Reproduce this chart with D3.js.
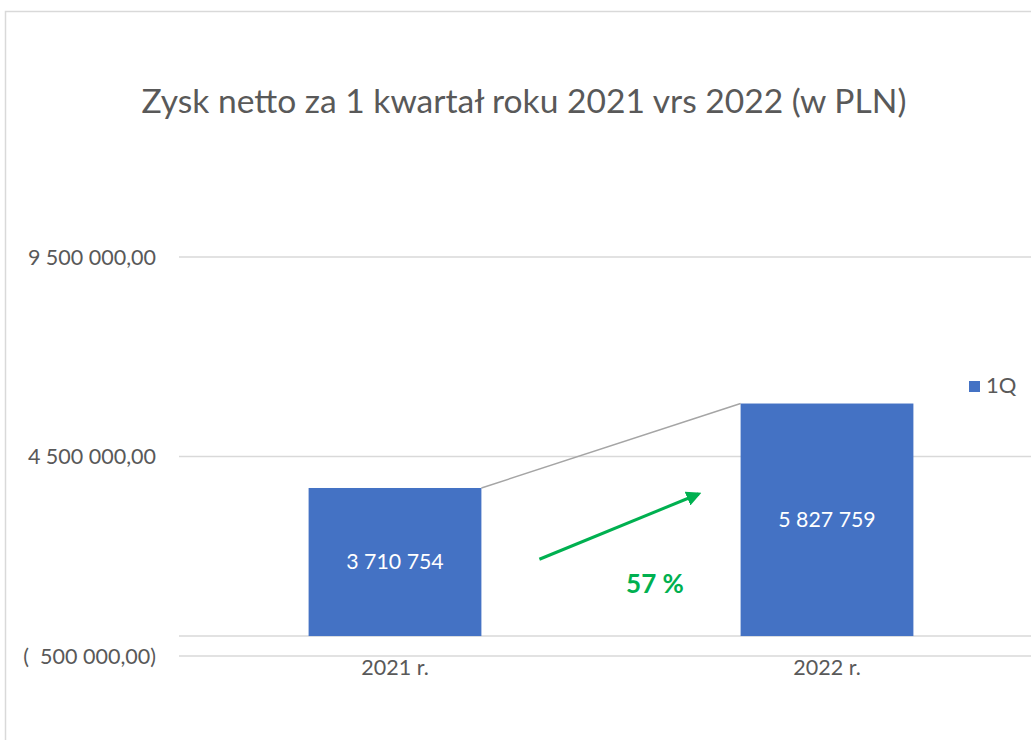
<!DOCTYPE html>
<html>
<head>
<meta charset="utf-8">
<script src="https://cdn.jsdelivr.net/npm/d3@7"></script>
<style>
  html, body { margin: 0; padding: 0; background: #fff; }
  svg { display: block; font-family: Lato, "Open Sans", sans-serif; }
</style>
</head>
<body>
<div class="chartBox"></div>
<script>
// dane
var categories = ["2021 r.", "2022 r."];
var values = [3710754, 5827759];
var yTicks = [-500000, 4500000, 9500000];
var seriesName = "1Q";
var title = "Zysk netto za 1 kwartał roku 2021 vrs 2022 (w PLN)";

var W = 1031, H = 740;

// polski format liczb
var pl = d3.formatLocale({ decimal: ",", thousands: "\u00a0", grouping: [3], currency: ["", ""] });
var fTick = pl.format(",.2f");
var fVal = pl.format(",.0f");
function tickLabel(v) {
    return v < 0 ? "(\u00a0 " + fTick(-v) + ")" : fTick(v);
}

var svg = d3.select(".chartBox")
    .append("svg")
    .attr("width", W)
    .attr("height", H);

// ramka wykresu
svg.append("rect")
    .attr("x", 5.5).attr("y", 11.5)
    .attr("width", W + 20).attr("height", H + 20)
    .attr("fill", "none")
    .attr("stroke", "#d9d9d9")
    .attr("stroke-width", 1.5);

// tytuł
svg.append("text")
    .attr("x", 524)
    .attr("y", 113)
    .attr("text-anchor", "middle")
    .attr("fill", "#595959")
    .style("font-size", "33.6px")
    .text(title);

// skale
var x = d3.scaleBand()
    .domain(categories)
    .range([179, 1043])
    .paddingInner(0.6)
    .paddingOuter(0.3);

var y = d3.scaleLinear()
    .domain([-500000, 9500000])
    .range([656, 257]);

// linie siatki
svg.append("g").selectAll("line.grid")
    .data(yTicks.concat([0]))
    .enter().append("line")
    .attr("class", "grid")
    .attr("x1", 179).attr("x2", W)
    .attr("y1", function(d) { return y(d); })
    .attr("y2", function(d) { return y(d); })
    .attr("stroke", "#d9d9d9")
    .attr("stroke-width", 1.5);

// etykiety osi Y
svg.append("g").selectAll("text.ytick")
    .data(yTicks)
    .enter().append("text")
    .attr("class", "ytick")
    .attr("x", 156)
    .attr("y", function(d) { return y(d); })
    .attr("dy", "0.35em")
    .attr("text-anchor", "end")
    .attr("fill", "#595959")
    .style("font-size", "21.5px")
    .text(tickLabel);

// etykiety osi X
svg.append("g").selectAll("text.xtick")
    .data(categories)
    .enter().append("text")
    .attr("class", "xtick")
    .attr("x", function(d) { return x(d) + x.bandwidth() / 2; })
    .attr("y", 675)
    .attr("text-anchor", "middle")
    .attr("fill", "#595959")
    .style("font-size", "21.5px")
    .text(function(d) { return d; });

// linia łącząca słupki
var pts = [];
categories.forEach(function(c, i) {
    if (i > 0) pts.push([x(c), y(values[i])]);
    if (i < categories.length - 1) pts.push([x(c) + x.bandwidth(), y(values[i])]);
});
svg.append("path")
    .attr("d", d3.line()(pts))
    .attr("fill", "none")
    .attr("stroke", "#a5a5a5")
    .attr("stroke-width", 1.5);

// słupki
svg.append("g").selectAll("rect.bar")
    .data(values)
    .enter().append("rect")
    .attr("class", "bar")
    .attr("x", function(d, i) { return x(categories[i]); })
    .attr("y", function(d) { return y(d); })
    .attr("width", x.bandwidth())
    .attr("height", function(d) { return y(0) - y(d); })
    .attr("fill", "#4472c4");

// etykiety danych
svg.append("g").selectAll("text.val")
    .data(values)
    .enter().append("text")
    .attr("class", "val")
    .attr("x", function(d, i) { return x(categories[i]) + x.bandwidth() / 2; })
    .attr("y", function(d) { return (y(d) + y(0)) / 2; })
    .attr("dy", "0.35em")
    .attr("text-anchor", "middle")
    .attr("fill", "#fff")
    .style("font-size", "21.3px")
    .text(function(d) { return fVal(d).replace(/\u00a0/g, " "); });

// strzałka wzrostu
svg.append("defs").append("marker")
    .attr("id", "arrow")
    .attr("viewBox", "0 -5 10 10")
    .attr("refX", 8)
    .attr("refY", 0)
    .attr("markerWidth", 5)
    .attr("markerHeight", 5)
    .attr("orient", "auto")
    .append("path")
    .attr("d", "M0,-5L10,0L0,5Z")
    .attr("fill", "#00b050");

var x0 = x(categories[0]) + x.bandwidth(), x1 = x(categories[1]);
svg.append("line")
    .attr("x1", x0 + 58).attr("y1", y(1925000))
    .attr("x2", x1 - 42).attr("y2", y(3560000))
    .attr("stroke", "#00b050")
    .attr("stroke-width", 3)
    .attr("marker-end", "url(#arrow)");

var growth = Math.round((values[1] / values[0] - 1) * 100);
svg.append("text")
    .attr("x", 655)
    .attr("y", 593)
    .attr("text-anchor", "middle")
    .attr("fill", "#00b050")
    .style("font-size", "26px")
    .style("font-weight", "bold")
    .text(growth + " %");

// legenda
var legend = svg.append("g").attr("transform", "translate(969,381)");
legend.append("rect")
    .attr("width", 11).attr("height", 11)
    .attr("fill", "#4472c4");
legend.append("text")
    .attr("x", 17).attr("y", 11.5)
    .attr("fill", "#595959")
    .style("font-size", "22px")
    .text(seriesName);
</script>
</body>
</html>
